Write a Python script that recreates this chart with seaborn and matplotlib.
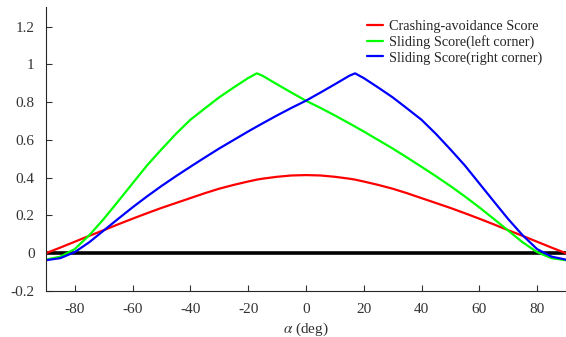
import pandas as pd
import seaborn as sns
import matplotlib
matplotlib.use('Agg')
import matplotlib.pyplot as plt

# angle grid (deg)
alpha = [-90, -85, -80, -75, -70, -65, -60, -55, -50, -45, -40, -35, -30, -25,
         -20, -17, -15, -10, -5, 0, 5, 10, 15, 17, 20, 25, 30, 35, 40, 45, 50,
         55, 60, 65, 70, 75, 80, 85, 90]

crash = [0.0, 0.03, 0.061, 0.092, 0.122, 0.153, 0.183, 0.212, 0.24, 0.266,
         0.292, 0.318, 0.342, 0.362, 0.38, 0.39, 0.395, 0.405, 0.412, 0.414,
         0.412, 0.405, 0.395, 0.39, 0.38, 0.362, 0.342, 0.318, 0.292, 0.266,
         0.24, 0.212, 0.183, 0.153, 0.122, 0.092, 0.061, 0.03, 0.0]

slide_left = [-0.034, -0.018, 0.022, 0.095, 0.181, 0.275, 0.37, 0.465, 0.55,
              0.632, 0.707, 0.767, 0.826, 0.878, 0.928, 0.953, 0.94, 0.895,
              0.851, 0.808, 0.77, 0.73, 0.688, 0.671, 0.645, 0.60, 0.555,
              0.507, 0.458, 0.408, 0.356, 0.301, 0.243, 0.182, 0.12, 0.058,
              0.006, -0.026, -0.037]

slide_right = [-0.037, -0.026, 0.006, 0.058, 0.12, 0.182, 0.243, 0.301, 0.356,
               0.408, 0.458, 0.507, 0.555, 0.60, 0.645, 0.671, 0.688, 0.73,
               0.77, 0.808, 0.851, 0.895, 0.94, 0.953, 0.928, 0.878, 0.826,
               0.767, 0.707, 0.632, 0.55, 0.465, 0.37, 0.275, 0.181, 0.095,
               0.022, -0.018, -0.034]

labels = ['Crashing-avoidance Score', 'Sliding Score(left corner)',
          'Sliding Score(right corner)']
colors = ['#ff0000', '#00ff00', '#0000ff']

xticks = [-80, -60, -40, -20, 0, 20, 40, 60, 80]
yticks = [-0.2, 0, 0.2, 0.4, 0.6, 0.8, 1, 1.2]
ytick_labels = ['-0.2', '0', '0.2', '0.4', '0.6', '0.8', '1', '1.2']

sns.set_style('ticks')
plt.rcParams['font.family'] = ['Liberation Serif', 'DejaVu Serif']
plt.rcParams['mathtext.fontset'] = 'stix'
plt.rcParams['axes.unicode_minus'] = False

fig = plt.figure(figsize=(5.66, 3.37), dpi=100)
ax = fig.add_axes([0.081, 0.1365, 0.919, 0.8425])

ax.axhline(0, color='black', lw=2.6, zorder=1)
for ys, lab, c in zip([crash, slide_left, slide_right], labels, colors):
    sns.lineplot(x=alpha, y=ys, ax=ax, color=c, lw=1.6, label=lab, zorder=2)

ax.set_xlim(-90, 90)
ax.set_ylim(-0.2, 1.304)
ax.set_xticks(xticks)
ax.set_xticklabels([str(t) for t in xticks])
ax.set_yticks(yticks)
ax.set_yticklabels(ytick_labels)

sns.despine(ax=ax)
for s in ['left', 'bottom']:
    ax.spines[s].set_color('#262626')
    ax.spines[s].set_linewidth(0.8)
ax.tick_params(direction='in', length=4, width=0.8, colors='#333333',
               labelsize=11)
ax.tick_params(axis='x', pad=9)
ax.tick_params(axis='y', pad=8)

ax.set_xlabel(r'$\alpha$ (deg)', fontsize=11, color='#333333', labelpad=3)
ax.set_ylabel('')

leg = ax.legend(loc='upper right', frameon=False, fontsize=10.3,
                handlelength=1.1, handletextpad=0.4, labelspacing=0.15,
                borderaxespad=0.2, bbox_to_anchor=(0.97, 0.985))

fig.savefig('out.png', dpi=100)
